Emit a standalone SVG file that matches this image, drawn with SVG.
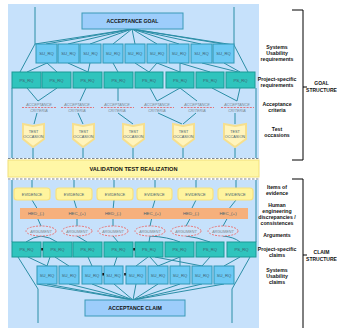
<svg xmlns="http://www.w3.org/2000/svg" width="337" height="328" viewBox="0 0 337 328">
  <defs>
    <style>
      .panel { fill: #c6e1fb; }
      .wire { stroke: #2b8ea6; stroke-width: 1; fill: none; }
      .su { fill: #6cc9f4; stroke: #2f98b6; stroke-width: 1; }
      .ps { fill: #2fc4bd; stroke: #1a9a96; stroke-width: 1; }
      .top { fill: #9dcdfb; stroke: #3a9ab8; stroke-width: 1; }
      .lbl { font-family: "Liberation Sans", Arial, sans-serif; fill: #3f5e6e; text-anchor: middle; }
      .bx { font-size: 4.2px; }
      .bold { font-family: "Liberation Sans", Arial, sans-serif; font-weight: bold; fill: #111; text-anchor: middle; }
      .side { font-size: 5.2px; }
      .crit { font-family: "Liberation Sans", Arial, sans-serif; font-size: 3.8px; font-style: italic; fill: #7a8590; text-anchor: middle; }
      .reddash { stroke: #e8585a; stroke-width: 0.8; stroke-dasharray: 2 1.2; fill: none; }
      .occ { fill: #fff4bd; stroke: #f6df8e; stroke-width: 2; }
      .ev { fill: #fff49e; stroke: #f8e27e; stroke-width: 1.2; }
      .arg { fill: #cfe4fa; stroke: #ea6a6a; stroke-width: 0.9; stroke-dasharray: 2 1.2; }
      .gdash { stroke: #7d8790; stroke-width: 1; stroke-dasharray: 2.5 1.5; }
      .brk { stroke: #000; stroke-width: 1; fill: none; }
      .blk { fill: #111; }
    </style>
  </defs>

  <!-- background panels -->
  <rect class="panel" x="8" y="4" width="251" height="154"/>
  <rect class="panel" x="8" y="180" width="251" height="148"/>

  <!-- connectors -->
  <g id="connectors">
    <!-- goal fan-out -->
    <path class="wire" d="M35,7 V44 L20,72 M234,7 V45 L248,72"/>
    <path class="wire" d="M132,29 L35,44 M132,29 L46,44 M132,29 L68,44 M132,29 L90,44 M132,29 L113,44 M132,29 L135,44 M132,29 L157,44 M132,29 L179,44 M132,29 L201,44 M132,29 L223,44 M132,29 L234,45"/>
    <!-- SU -> PS (upper) -->
    <path class="wire" d="M47,63 L27,72 M47,63 L57,72 M68,63 L88,72 M90,63 L88,72 M113,63 L118,72 M135,63 L149,72 M157,63 L149,72 M157,63 L180,72 M180,63 L180,72 M202,63 L238,72 M224,63 L240,72 M180,63 L210,72"/>
    <!-- PS -> acceptance criteria -->
    <path class="wire" d="M27,88 L38,101 M57,88 L38,101 M86,88 L80,101 M118,88 V101 M150,88 L157,101 M180,88 L157,101 M180,88 L197,101 M212,88 L237,101 M240,88 L237,101"/>
    <!-- acceptance criteria -> test occasions -->
    <path class="wire" d="M37,113 L34,124 M78,113 L83,124 M118,113 L133,124 M158,113 L182,124 M196,113 L183,124 M235,113 V124"/>
    <!-- test occasions -> validation -->
    <path class="wire" d="M33,148 V158 M83,148 V158 M133,148 V158 M183,148 V158 M235,148 V158"/>
    <path class="wire" d="M12,88 V158 M256,88 V158"/>
    <!-- validation -> evidence -->
    <path class="wire" d="M32,180 V188 M74,180 V188 M114,180 V188 M155,180 V188 M196,180 V188 M236,180 V188"/>
    <path class="wire" d="M12,180 V242 M256,180 V242"/>
    <!-- evidence -> discrepancy labels -->
    <path class="wire" d="M32,200 L38,210 M74,200 L77,210 M114,200 L113,210 M155,200 L152,210 M196,200 L191,210 M236,200 L228,210"/>
    <!-- labels -> arguments -->
    <path class="wire" d="M37,217 L41,226 M77,217 V226 M113,217 V226 M152,217 L150,226 M191,217 L186,226 M228,217 L223,226"/>
    <!-- arguments -> PS claims -->
    <path class="wire" d="M41,236 Q33,237 26,242 M41,236 Q50,237 57,242 M77,236 L87,242 M113,236 L118,242 M150,236 L149,242 M150,236 Q168,237 180,242 M186,236 Q196,237 210,242 M223,236 Q234,237 240,242"/>
    <!-- PS claims -> SU claims -->
    <path class="wire" d="M18,257 L38,289 V323 M250,257 L232,289 V323"/>
    <path class="wire" d="M28,257 L47,266 M50,257 L47,266 M55,257 L69,266 M88,257 L92,266 M117,257 L114,266 M148,257 L136,266 M150,257 L158,266 M180,257 L158,266 M180,257 L180,266 M210,257 L202,266 M240,257 L224,266 M155,257 L202,266"/>
    <!-- SU claims -> acceptance claim -->
    <path class="wire" d="M37,284 L133,300 M47,284 L133,300 M69,284 L133,300 M92,284 L133,300 M114,284 L133,300 M136,284 L133,300 M158,284 L133,300 M180,284 L133,300 M202,284 L133,300 M224,284 L133,300"/>
  </g>

  <!-- goal structure -->
  <g id="acceptance-goal">
    <rect class="top" x="82" y="13" width="101" height="16"/>
    <text class="bold" x="132.5" y="23" font-size="5.2">ACCEPTANCE GOAL</text>
  </g>

  <g id="su-requirements">
    <rect class="su" x="36" y="44" width="21" height="19"/>
    <rect class="su" x="58" y="44" width="21" height="19"/>
    <rect class="su" x="80" y="44" width="21" height="19"/>
    <rect class="su" x="103" y="44" width="20" height="19"/>
    <rect class="su" x="125" y="44" width="20" height="19"/>
    <rect class="su" x="147" y="44" width="20" height="19"/>
    <rect class="su" x="169" y="44" width="20" height="19"/>
    <rect class="su" x="191" y="44" width="21" height="19"/>
    <rect class="su" x="213" y="44" width="21" height="19"/>
    <g class="lbl bx">
      <text x="46.5" y="55">SU_RQ</text><text x="68.5" y="55">SU_RQ</text><text x="90.5" y="55">SU_RQ</text>
      <text x="113" y="55">SU_RQ</text><text x="135" y="55">SU_RQ</text><text x="157" y="55">SU_RQ</text>
      <text x="179" y="55">SU_RQ</text><text x="201.5" y="55">SU_RQ</text><text x="223.5" y="55">SU_RQ</text>
    </g>
  </g>

  <g id="ps-requirements">
    <rect class="ps" x="12" y="72" width="29" height="16"/>
    <rect class="ps" x="42" y="72" width="29" height="16"/>
    <rect class="ps" x="73" y="72" width="29" height="16"/>
    <rect class="ps" x="104" y="72" width="29" height="16"/>
    <rect class="ps" x="135" y="72" width="28" height="16"/>
    <rect class="ps" x="166" y="72" width="28" height="16"/>
    <rect class="ps" x="196" y="72" width="28" height="16"/>
    <rect class="ps" x="226" y="72" width="29" height="16"/>
    <g class="lbl bx">
      <text x="26.5" y="81.5">PS_RQ</text><text x="56.5" y="81.5">PS_RQ</text><text x="87.5" y="81.5">PS_RQ</text>
      <text x="118.5" y="81.5">PS_RQ</text><text x="149" y="81.5">PS_RQ</text><text x="180" y="81.5">PS_RQ</text>
      <text x="210" y="81.5">PS_RQ</text><text x="240.5" y="81.5">PS_RQ</text>
    </g>
  </g>

  <g id="acceptance-criteria">
    <path class="reddash" d="M22,107.5 H56 M61,107.5 H94 M101,107.5 H134 M141,107.5 H174 M181,107.5 H214 M221,107.5 H254"/>
    <g class="crit">
      <text x="39" y="105.5">ACCEPTANCE</text><text x="39" y="111.5">CRITERIA</text>
      <text x="77" y="105.5">ACCEPTANCE</text><text x="77" y="111.5">CRITERIA</text>
      <text x="117" y="105.5">ACCEPTANCE</text><text x="117" y="111.5">CRITERIA</text>
      <text x="157" y="105.5">ACCEPTANCE</text><text x="157" y="111.5">CRITERIA</text>
      <text x="197" y="105.5">ACCEPTANCE</text><text x="197" y="111.5">CRITERIA</text>
      <text x="237" y="105.5">ACCEPTANCE</text><text x="237" y="111.5">CRITERIA</text>
    </g>
  </g>

  <g id="test-occasions">
    <polygon class="occ" points="23,124 33,126 44,124 44,139 33,147 23,139"/>
    <polygon class="occ" points="73,124 83,126 94,124 94,139 83,147 73,139"/>
    <polygon class="occ" points="123,124 133,126 144,124 144,139 133,147 123,139"/>
    <polygon class="occ" points="173,124 183,126 194,124 194,139 183,147 173,139"/>
    <polygon class="occ" points="224,124 235,126 246,124 246,139 235,147 224,139"/>
    <g class="lbl" font-size="3.8" fill="#6b6b6b">
      <text x="33.5" y="133">TEST</text><text x="33.5" y="138">OCCASION</text>
      <text x="83.5" y="133">TEST</text><text x="83.5" y="138">OCCASION</text>
      <text x="133.5" y="133">TEST</text><text x="133.5" y="138">OCCASION</text>
      <text x="183.5" y="133">TEST</text><text x="183.5" y="138">OCCASION</text>
      <text x="235" y="133">TEST</text><text x="235" y="138">OCCASION</text>
    </g>
  </g>

  <!-- validation band -->
  <g id="validation">
    <line class="gdash" x1="8" y1="158.5" x2="259" y2="158.5"/>
    <rect x="8" y="160" width="251" height="17" fill="#fff7a6" stroke="#f2e07a" stroke-width="1"/>
    <line class="gdash" x1="8" y1="179" x2="259" y2="179"/>
    <text class="bold" x="133.5" y="170.5" font-size="5.6">VALIDATION TEST REALIZATION</text>
  </g>

  <!-- claim structure -->
  <g id="evidence">
    <rect class="ev" x="14" y="188" width="36" height="12" rx="3"/>
    <rect class="ev" x="56" y="188" width="36" height="12" rx="3"/>
    <rect class="ev" x="97" y="188" width="36" height="12" rx="3"/>
    <rect class="ev" x="137" y="188" width="35" height="12" rx="3"/>
    <rect class="ev" x="178" y="188" width="35" height="12" rx="3"/>
    <rect class="ev" x="218" y="188" width="35" height="12" rx="3"/>
    <g class="lbl" font-size="4" fill="#6b6b6b">
      <text x="32" y="195.5">EVIDENCE</text><text x="74" y="195.5">EVIDENCE</text><text x="115" y="195.5">EVIDENCE</text>
      <text x="154.5" y="195.5">EVIDENCE</text><text x="195.5" y="195.5">EVIDENCE</text><text x="235.5" y="195.5">EVIDENCE</text>
    </g>
  </g>

  <g id="discrepancies">
    <rect x="20" y="208" width="228" height="11" fill="#f6b07c"/>
    <g class="lbl" font-size="4.4" fill="#4a4a4a">
      <text x="36" y="215">HED_(-)</text><text x="77" y="215">HEC_(+)</text><text x="113" y="215">HED_(-)</text>
      <text x="152" y="215">HEC_(+)</text><text x="191" y="215">HED_(-)</text><text x="228" y="215">HEC_(+)</text>
    </g>
  </g>

  <g id="arguments">
    <ellipse class="arg" cx="41" cy="231" rx="15" ry="5"/>
    <ellipse class="arg" cx="77" cy="231" rx="15" ry="5"/>
    <ellipse class="arg" cx="113" cy="231" rx="15" ry="5"/>
    <ellipse class="arg" cx="150" cy="231" rx="15" ry="5"/>
    <ellipse class="arg" cx="186" cy="231" rx="15" ry="5"/>
    <ellipse class="arg" cx="223" cy="231" rx="15" ry="5"/>
    <g class="crit" font-style="normal">
      <text x="41" y="232.5">ARGUMENT</text><text x="77" y="232.5">ARGUMENT</text><text x="113" y="232.5">ARGUMENT</text>
      <text x="150" y="232.5">ARGUMENT</text><text x="186" y="232.5">ARGUMENT</text><text x="223" y="232.5">ARGUMENT</text>
    </g>
  </g>

  <g id="ps-claims">
    <rect class="ps" x="12" y="242" width="29" height="15"/>
    <rect class="ps" x="43" y="242" width="29" height="15"/>
    <rect class="ps" x="73" y="242" width="29" height="15"/>
    <rect class="ps" x="104" y="242" width="29" height="15"/>
    <rect class="ps" x="135" y="242" width="28" height="15"/>
    <rect class="ps" x="165" y="242" width="29" height="15"/>
    <rect class="ps" x="196" y="242" width="28" height="15"/>
    <rect class="ps" x="227" y="242" width="29" height="15"/>
    <rect class="blk" x="41.3" y="248" width="1.6" height="2.5"/>
    <rect class="blk" x="133.3" y="248" width="1.6" height="2.5"/>
    <g class="lbl bx">
      <text x="26.5" y="251">PS_RQ</text><text x="57.5" y="251">PS_RQ</text><text x="87.5" y="251">PS_RQ</text>
      <text x="118.5" y="251">PS_RQ</text><text x="149" y="251">PS_RQ</text><text x="179.5" y="251">PS_RQ</text>
      <text x="210" y="251">PS_RQ</text><text x="241.5" y="251">PS_RQ</text>
    </g>
  </g>

  <g id="su-claims">
    <rect class="su" x="37" y="266" width="20" height="18"/>
    <rect class="su" x="59" y="266" width="20" height="18"/>
    <rect class="su" x="82" y="266" width="20" height="18"/>
    <rect class="su" x="104" y="266" width="19" height="18"/>
    <rect class="su" x="126" y="266" width="20" height="18"/>
    <rect class="su" x="148" y="266" width="20" height="18"/>
    <rect class="su" x="170" y="266" width="20" height="18"/>
    <rect class="su" x="192" y="266" width="20" height="18"/>
    <rect class="su" x="214" y="266" width="20" height="18"/>
    <rect class="blk" x="102.4" y="273" width="1.6" height="2.5"/>
    <rect class="blk" x="124.2" y="273" width="1.6" height="2.5"/>
    <g class="lbl bx">
      <text x="47" y="276.5">SU_RQ</text><text x="69" y="276.5">SU_RQ</text><text x="92" y="276.5">SU_RQ</text>
      <text x="113.5" y="276.5">SU_RQ</text><text x="136" y="276.5">SU_RQ</text><text x="158" y="276.5">SU_RQ</text>
      <text x="180" y="276.5">SU_RQ</text><text x="202" y="276.5">SU_RQ</text><text x="224" y="276.5">SU_RQ</text>
    </g>
  </g>

  <g id="acceptance-claim">
    <rect class="top" x="85" y="300" width="100" height="16"/>
    <text class="bold" x="135" y="310" font-size="5.2">ACCEPTANCE CLAIM</text>
  </g>

  <!-- level labels and structure brackets -->
  <g id="goal-legend">
    <g class="bold side">
      <text x="277" y="48.5">Systems</text><text x="277" y="54.5">Usability</text><text x="277" y="60.5">requirements</text>
      <text x="277" y="80.5">Project-specific</text><text x="277" y="87">requirements</text>
      <text x="277" y="105.5">Acceptance</text><text x="277" y="111.5">criteria</text>
      <text x="277" y="130.5">Test</text><text x="277" y="136.5">occasions</text>
    </g>
    <path class="brk" d="M292,10 H303 V160 H292 M303,87 H307"/>
    <g class="bold" font-size="5">
      <text x="321.5" y="85">GOAL</text><text x="321.5" y="91.5">STRUCTURE</text>
    </g>
  </g>

  <g id="claim-legend">
    <g class="bold side">
      <text x="277" y="188.5">Items of</text><text x="277" y="194.5">evidence</text>
      <text x="277" y="206.5">Human</text><text x="277" y="212.5">engineering</text><text x="277" y="218.5">discrepancies /</text><text x="277" y="224.5">consistences</text>
      <text x="277" y="236.5">Arguments</text>
      <text x="277" y="250.5">Project-specific</text><text x="277" y="256.5">claims</text>
      <text x="277" y="271.5">Systems</text><text x="277" y="277.5">Usability</text><text x="277" y="283.5">claims</text>
    </g>
    <path class="brk" d="M292,179 H303 V328 M303,255 H307"/>
    <g class="bold" font-size="5">
      <text x="321.5" y="254">CLAIM</text><text x="321.5" y="260.5">STRUCTURE</text>
    </g>
  </g>
</svg>
